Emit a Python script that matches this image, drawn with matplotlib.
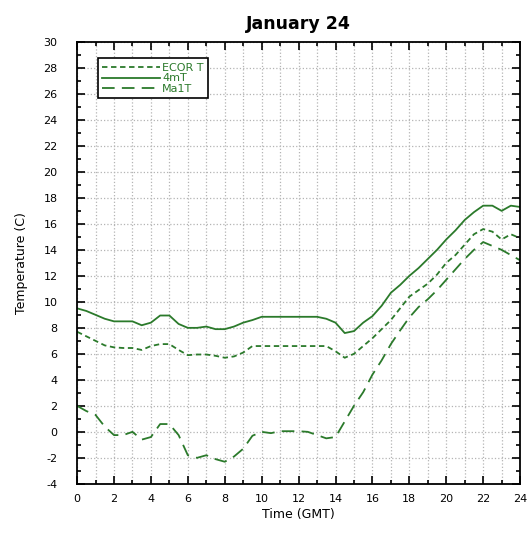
import numpy as np
import matplotlib
matplotlib.use("Agg")
import matplotlib.pyplot as plt
from matplotlib.ticker import MultipleLocator

plt.rcParams["axes.unicode_minus"] = False

# hours (GMT), half-hour steps
hours = np.arange(0, 24.01, 0.5)

# 4mT (solid)
t_4m = [9.5, 9.3, 9.0, 8.7, 8.5, 8.5, 8.5, 8.2, 8.4, 8.95,
        8.95, 8.3, 8.0, 8.0, 8.1, 7.9, 7.9, 8.1, 8.4, 8.6,
        8.85, 8.85, 8.85, 8.85, 8.85, 8.85, 8.85, 8.7, 8.4, 7.6,
        7.75, 8.4, 8.9, 9.7, 10.7, 11.3, 12.0, 12.6, 13.3, 14.0,
        14.8, 15.5, 16.3, 16.9, 17.4, 17.4, 17.0, 17.4, 17.3]

# ECOR T (short dash)
t_ecor = [7.7, 7.35, 7.0, 6.65, 6.5, 6.45, 6.45, 6.3, 6.6, 6.75,
          6.75, 6.3, 5.9, 5.95, 5.95, 5.85, 5.7, 5.8, 6.1, 6.6,
          6.6, 6.6, 6.6, 6.6, 6.6, 6.6, 6.6, 6.6, 6.2, 5.7,
          6.0, 6.6, 7.2, 7.9, 8.6, 9.5, 10.4, 10.9, 11.4, 12.1,
          13.0, 13.6, 14.4, 15.2, 15.6, 15.4, 14.8, 15.2, 14.9]

# Ma1T (long dash)
t_ma1 = [2.0, 1.6, 1.3, 0.4, -0.25, -0.25, 0.0, -0.6, -0.4, 0.6,
         0.6, -0.25, -1.8, -2.0, -1.8, -2.1, -2.3, -1.9, -1.3, -0.3,
         0.0, -0.1, 0.05, 0.05, 0.05, 0.0, -0.25, -0.5, -0.4, 0.8,
         2.0, 3.05, 4.4, 5.5, 6.75, 7.8, 8.8, 9.6, 10.2, 10.9,
         11.7, 12.5, 13.3, 14.0, 14.6, 14.3, 14.0, 13.6, 13.2]

green = "#2b7a2b"

fig = plt.figure(figsize=(5.28, 5.37), dpi=100)
ax = fig.add_axes([0.146, 0.099, 0.839, 0.823])

ax.plot(hours, t_ecor, color=green, lw=1.3, ls=(0, (3, 2)), label="ECOR T")
ax.plot(hours, t_4m, color=green, lw=1.3, ls="-", label="4mT")
ax.plot(hours, t_ma1, color=green, lw=1.3, ls=(0, (7, 4)), label="Ma1T")

ax.set_xlim(0, 24)
ax.set_ylim(-4, 30)
ax.xaxis.set_major_locator(MultipleLocator(2))
ax.xaxis.set_minor_locator(MultipleLocator(1))
ax.yaxis.set_major_locator(MultipleLocator(2))
ax.yaxis.set_minor_locator(MultipleLocator(1))

ax.grid(which="both", axis="x", color="#b4b4b4", ls=":", lw=0.9)
ax.grid(which="major", axis="y", color="#b4b4b4", ls=":", lw=0.9)

ax.tick_params(which="both", direction="in", top=True, right=True,
               labelsize=8, width=1.2)
ax.tick_params(which="major", length=6)
ax.tick_params(which="minor", length=3)
ax.tick_params(axis="y", pad=14)
ax.tick_params(axis="x", pad=7)
for s in ax.spines.values():
    s.set_linewidth(1.3)

ax.set_title("January 24", fontsize=12.5, fontweight="bold", pad=9)
ax.set_xlabel("Time (GMT)", fontsize=9, labelpad=3)
ax.set_ylabel("Temperature (C)", fontsize=9, labelpad=11)

leg = ax.legend(loc="upper left", bbox_to_anchor=(0.034, 0.975), fontsize=8,
                handlelength=5.2, handletextpad=0.2, labelspacing=0.05,
                borderpad=0.4, fancybox=False, framealpha=1, edgecolor="black")
leg.get_frame().set_linewidth(1.2)
for t in leg.get_texts():
    t.set_color(green)

fig.savefig("out.png", dpi=100)
